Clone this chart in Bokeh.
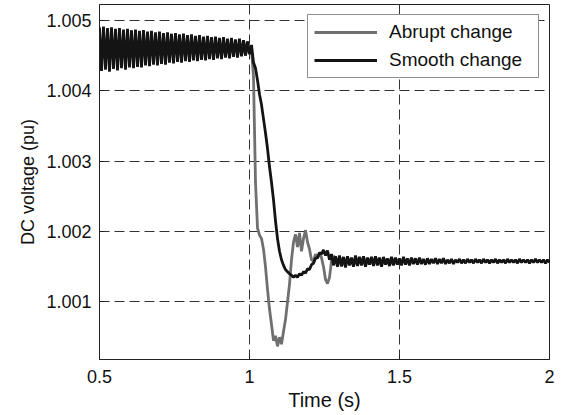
import numpy as np
from bokeh.plotting import figure
from bokeh.models import FixedTicker, Range1d, Legend, LegendItem
from bokeh.embed import file_html
from bokeh.resources import INLINE

# sample spacing of the recorded waveforms (s)
dt = 1 / 150
t0 = 0.5

# Smooth change: DC voltage (pu), t = 0.5 ... 2.0
smooth = [
    1.00490, 1.00428, 1.00491, 1.00430, 1.00489, 1.00427, 1.00490, 1.00431, 1.00488, 1.00429,
    1.00489, 1.00432, 1.00487, 1.00430, 1.00488, 1.00433, 1.00486, 1.00432, 1.00487, 1.00434,
    1.00485, 1.00433, 1.00486, 1.00436, 1.00484, 1.00435, 1.00485, 1.00437, 1.00483, 1.00436,
    1.00484, 1.00438, 1.00482, 1.00437, 1.00483, 1.00440, 1.00481, 1.00439, 1.00482, 1.00441,
    1.00480, 1.00440, 1.00481, 1.00442, 1.00479, 1.00441, 1.00480, 1.00443, 1.00478, 1.00442,
    1.00479, 1.00444, 1.00477, 1.00443, 1.00478, 1.00445, 1.00476, 1.00444, 1.00477, 1.00446,
    1.00475, 1.00445, 1.00476, 1.00447, 1.00474, 1.00446, 1.00475, 1.00448, 1.00473, 1.00447,
    1.00474, 1.00449, 1.00472, 1.00450, 1.00470, 1.00452,
    1.00465, 1.00440, 1.00432, 1.00415, 1.00395, 1.00380, 1.00360, 1.00340, 1.00318, 1.00292,
    1.00270, 1.00245, 1.00215, 1.00190, 1.00172, 1.00160, 1.00152, 1.00146, 1.00143, 1.00140,
    1.00138, 1.00135, 1.00138, 1.00135, 1.00140, 1.00138, 1.00143, 1.00141, 1.00147, 1.00146,
    1.00153, 1.00155, 1.00162, 1.00163, 1.00170, 1.00168, 1.00174, 1.00166, 1.00173, 1.00160,
    1.00168, 1.00152,
    1.00165, 1.00150, 1.00166, 1.00151, 1.00164, 1.00149, 1.00165, 1.00152, 1.00163, 1.00150,
    1.00166, 1.00151, 1.00164, 1.00152, 1.00165, 1.00150, 1.00163, 1.00153, 1.00164, 1.00151,
    1.00165, 1.00152, 1.00163, 1.00150, 1.00164, 1.00153, 1.00162, 1.00151, 1.00164, 1.00152,
    1.00163, 1.00153, 1.00162, 1.00152, 1.00164, 1.00153, 1.00162, 1.00152, 1.00163, 1.00154,
    1.00162, 1.00153, 1.00163, 1.00154, 1.00161, 1.00153, 1.00162, 1.00154, 1.00161, 1.00155,
    1.00162, 1.00154, 1.00161, 1.00155, 1.00162, 1.00154, 1.00160, 1.00155, 1.00161, 1.00154,
    1.00160, 1.00156, 1.00161, 1.00155, 1.00160, 1.00155, 1.00161, 1.00156, 1.00160, 1.00155,
    1.00161, 1.00156, 1.00160, 1.00155, 1.00161, 1.00156, 1.00160, 1.00155, 1.00160, 1.00156,
    1.00161, 1.00155, 1.00160, 1.00156, 1.00160, 1.00155, 1.00161, 1.00156, 1.00160, 1.00156,
    1.00160, 1.00155, 1.00161, 1.00156, 1.00160, 1.00156, 1.00160, 1.00155, 1.00160, 1.00156,
    1.00161, 1.00156, 1.00160, 1.00156, 1.00160, 1.00155, 1.00160, 1.00156,
]

# Abrupt change: DC voltage (pu), starting at t = 0.98 (identical before)
abrupt_start = 0.98
abrupt = [
    1.00472, 1.00450, 1.00470, 1.00452,
    1.00458, 1.00420, 1.00270, 1.00205, 1.00195, 1.00190, 1.00175, 1.00150, 1.00118, 1.00090,
    1.00068, 1.00045, 1.00052, 1.00037, 1.00050, 1.00040, 1.00058, 1.00075, 1.00100, 1.00125,
    1.00160, 1.00185, 1.00196, 1.00178, 1.00198, 1.00172, 1.00190, 1.00202, 1.00185, 1.00175,
    1.00160, 1.00158, 1.00168, 1.00162, 1.00170, 1.00163, 1.00150, 1.00132, 1.00126, 1.00135,
    1.00158, 1.00165,
    1.00163, 1.00152, 1.00165, 1.00150, 1.00163, 1.00151, 1.00164, 1.00153, 1.00162, 1.00151,
    1.00164, 1.00152, 1.00163, 1.00153, 1.00164, 1.00151, 1.00162, 1.00154, 1.00163, 1.00152,
    1.00164, 1.00153, 1.00162, 1.00151, 1.00163, 1.00154, 1.00161, 1.00152, 1.00163, 1.00153,
    1.00162, 1.00154, 1.00161,
]

x_ticks = [0.5, 1, 1.5, 2]
x_tick_labels = ["0.5", "1", "1.5", "2"]
y_ticks = [1.001, 1.002, 1.003, 1.004, 1.005]
y_tick_labels = ["1.001", "1.002", "1.003", "1.004", "1.005"]

t_smooth = t0 + np.arange(len(smooth)) * dt
t_abrupt = abrupt_start + np.arange(len(abrupt)) * dt

FONT = "Liberation Sans"

p = figure(
    width=563, height=413,
    x_range=Range1d(0.5, 2.0), y_range=Range1d(1.000183, 1.005225),
    output_backend="svg", toolbar_location=None,
    min_border_left=99, min_border_right=14, min_border_top=4, min_border_bottom=51,
    background_fill_color="white", border_fill_color="white",
)
p.outline_line_color = "#222222"
p.outline_line_width = 1

r_abrupt = p.line(t_abrupt, abrupt, line_color="#707070", line_width=2.8)
r_smooth = p.line(t_smooth, smooth, line_color="#141414", line_width=2.8)

p.xaxis.ticker = FixedTicker(ticks=x_ticks)
p.yaxis.ticker = FixedTicker(ticks=y_ticks)
p.xaxis.major_label_overrides = {k: v for k, v in zip(x_ticks, x_tick_labels)}
p.yaxis.major_label_overrides = {k: v for k, v in zip(y_ticks, y_tick_labels)}

for ax in (p.xaxis[0], p.yaxis[0]):
    ax.axis_line_color = "#222222"
    ax.major_tick_in = 5
    ax.major_tick_out = 0
    ax.minor_tick_line_color = None
    ax.major_tick_line_color = "#222222"
    ax.major_label_text_font = FONT
    ax.major_label_text_font_size = "18px"
    ax.major_label_text_color = "#111111"
    ax.axis_label_text_font = FONT
    ax.axis_label_text_font_style = "normal"
    ax.axis_label_text_color = "#111111"

p.xaxis.axis_label = "Time (s)"
p.yaxis.axis_label = "DC voltage (pu)"
p.xaxis.axis_label_text_font_size = "20px"
p.yaxis.axis_label_text_font_size = "18px"
p.xaxis.major_label_standoff = 10
p.yaxis.major_label_standoff = 8
p.xaxis.axis_label_standoff = 3
p.yaxis.axis_label_standoff = 5

for g in (p.xgrid[0], p.ygrid[0]):
    g.grid_line_color = "#333333"
    g.grid_line_width = 1
    g.grid_line_dash = "10 5"

legend = Legend(
    items=[LegendItem(label="Abrupt change", renderers=[r_abrupt]),
           LegendItem(label="Smooth change", renderers=[r_smooth])],
    location="top_right",
)
legend.label_text_font = FONT
legend.label_text_font_size = "19px"
legend.label_text_color = "#111111"
legend.glyph_width = 63
legend.glyph_height = 20
legend.label_height = 20
legend.label_width = 143
legend.label_standoff = 12
legend.padding = 6
legend.spacing = 6
legend.margin = 10
legend.border_line_color = "#222222"
legend.border_line_width = 1
legend.background_fill_color = "white"
legend.background_fill_alpha = 1.0
p.add_layout(legend)

open("out.html", "w").write(file_html(p, INLINE))
